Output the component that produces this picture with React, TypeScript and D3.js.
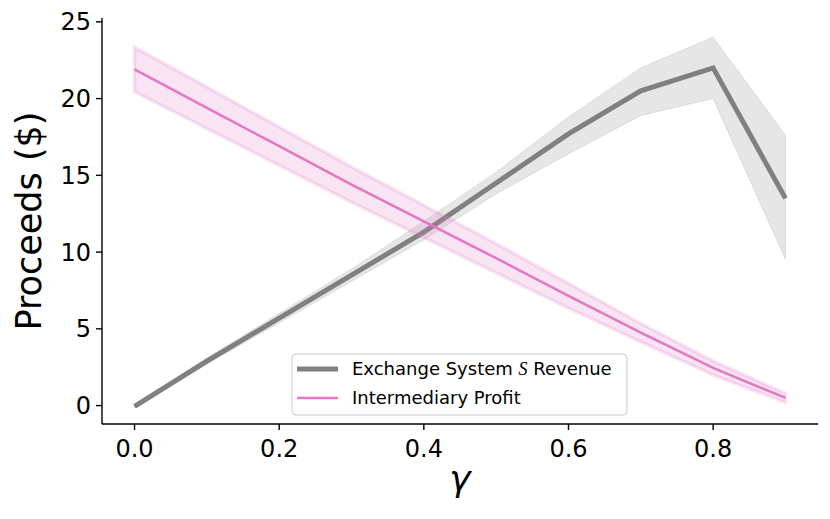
import * as d3 from 'd3';

const gammas = [0.0, 0.1, 0.2, 0.3, 0.4, 0.5, 0.6, 0.7, 0.8, 0.9];

const revenue = [-0.05, 2.9, 5.7, 8.5, 11.3, 14.5, 17.7, 20.5, 22.0, 13.5];
const revenueLow = [-0.15, 2.7, 5.4, 8.1, 10.8, 13.8, 16.4, 18.9, 20.0, 9.55];
const revenueHigh = [0.05, 3.1, 6.0, 8.9, 12.0, 15.2, 18.8, 22.0, 24.0, 17.6];

const profit = [21.9, 19.4, 16.9, 14.4, 12.0, 9.6, 7.15, 4.75, 2.45, 0.5];
const profitLow = [20.45, 18.05, 15.65, 13.25, 10.95, 8.65, 6.35, 4.15, 2.0, 0.2];
const profitHigh = [23.35, 20.75, 18.15, 15.55, 13.05, 10.55, 7.95, 5.35, 2.9, 0.8];

const xTicks = [0.0, 0.2, 0.4, 0.6, 0.8];
const yTicks = [0, 5, 10, 15, 20, 25];

const W = 830;
const H = 519;
const plot = { l: 102, r: 818, t: 18, b: 424 };
const font = 'DejaVu Sans';

export default function App() {
    const x = d3.scaleLinear().domain([-0.045, 0.945]).range([plot.l, plot.r]);
    const y = d3.scaleLinear().domain([-1.2, 25.25]).range([plot.b, plot.t]);

    const line = d3.line<number>()
        .x((_, i) => x(gammas[i]))
        .y(d => y(d));

    const band = (lo: number[], hi: number[]) =>
        d3.area<number>()
            .x(g => x(g))
            .y0((_, i) => y(lo[i]))
            .y1((_, i) => y(hi[i]))(gammas) as string;

    const legend = { x: 292, y: 354, w: 335, h: 61 };

    return (
        <svg width={W} height={H} style={{ position: 'absolute', left: 0, top: 0 }} fontFamily={font}>
            <rect width={W} height={H} fill="white" />

            {/* bands and lines */}
            <path d={band(revenueLow, revenueHigh)} fill="gray" fillOpacity={0.2} stroke="gray" strokeOpacity={0.2} strokeWidth={1} />
            <path d={line(revenue) as string} fill="none" stroke="#808080" strokeWidth={5} />
            <path d={band(profitLow, profitHigh)} fill="#e377c2" fillOpacity={0.2} stroke="#e377c2" strokeOpacity={0.2} strokeWidth={3.5} />
            <path d={line(profit) as string} fill="none" stroke="#e377c2" strokeWidth={2.5} />

            {/* axes */}
            <line x1={plot.l} x2={plot.l} y1={plot.t} y2={plot.b} stroke="black" strokeWidth={1.4} />
            <line x1={plot.l} x2={plot.r} y1={plot.b} y2={plot.b} stroke="black" strokeWidth={1.4} />
            {yTicks.map(t => (
                <g key={t} transform={`translate(${plot.l},${y(t)})`}>
                    <line x1={-6} x2={0} stroke="black" strokeWidth={1.4} />
                    <text x={-11} dy="0.36em" textAnchor="end" fontSize={24}>{t}</text>
                </g>
            ))}
            {xTicks.map(t => (
                <g key={t} transform={`translate(${x(t)},${plot.b})`}>
                    <line y1={0} y2={6} stroke="black" strokeWidth={1.4} />
                    <text y={33} textAnchor="middle" fontSize={24}>{t.toFixed(1)}</text>
                </g>
            ))}

            <text transform={`translate(41,${(plot.t + plot.b) / 2}) rotate(-90)`} textAnchor="middle" fontSize={35}>Proceeds ($)</text>
            <text x={(plot.l + plot.r) / 2} y={491} textAnchor="middle" fontSize={36} fontStyle="italic">γ</text>

            {/* legend */}
            <rect x={legend.x} y={legend.y} width={legend.w} height={legend.h} rx={4} fill="white" fillOpacity={0.8} stroke="#cccccc" strokeWidth={1} />
            <line x1={297} x2={338} y1={369} y2={369} stroke="#808080" strokeWidth={5} />
            <text x={352} y={369} dy="0.36em" fontSize={18}>
                Exchange System <tspan fontFamily="Liberation Serif" fontStyle="italic">S</tspan> Revenue
            </text>
            <line x1={297} x2={338} y1={398} y2={398} stroke="#e377c2" strokeWidth={2.5} />
            <text x={352} y={398} dy="0.36em" fontSize={18}>Intermediary Profit</text>
        </svg>
    );
}
